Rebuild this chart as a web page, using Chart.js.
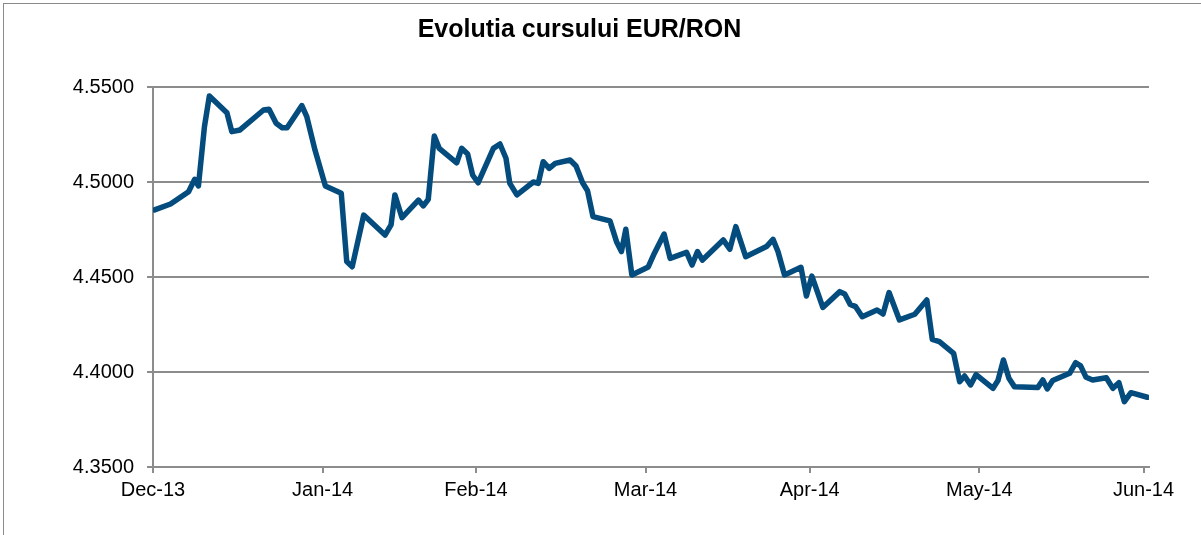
<!DOCTYPE html>
<html>
<head>
<meta charset="utf-8">
<script src="https://cdn.jsdelivr.net/npm/chart.js@4/dist/chart.umd.min.js"></script>
<style>
  html, body { margin: 0; padding: 0; background: #fff; }
  #wrap { position: relative; width: 1201px; height: 535px; overflow: hidden; }
  #frame { position: absolute; left: 3px; top: 3px; right: -2px; bottom: -2px; border-left: 1px solid #8a8a8a; border-top: 1px solid #8a8a8a; }
  canvas { position: absolute; left: 0; top: 0; }
</style>
</head>
<body>
<div id="wrap">
  <div id="frame"></div>
  <canvas id="chart" width="1201" height="535"></canvas>
</div>
<script>
// days counted from the first axis tick (labelled Dec-13)
const days = [0.3, 3.2, 6.5, 7.6, 8.3, 9.4, 10.3, 13.5, 14.4, 15.9, 20.2, 21.2, 22.5, 23.6, 24.5, 27.2, 28.1, 29.6,
  31.5, 34.4, 35.4, 36.4, 38.5, 42.4, 43.5, 44.2, 45.5, 48.5, 49.4, 50.3, 51.4, 52.3, 55.5, 56.4, 57.5, 58.4, 59.4,
  62.2, 63.4, 64.5, 65.2, 66.5, 69.5, 70.4, 71.3, 72.4, 73.5, 76.2, 77.3, 78.5, 79.4, 80.4, 83.5, 84.7, 85.6, 86.4, 87.5,
  90.5, 91.6, 93.4, 94.5, 97.5, 98.5, 99.5, 100.4, 104.2, 105.4, 106.5, 108.3, 112.1, 113.3, 114.2, 115.4, 118.4, 119.4,
  120.4, 122.4, 125.5, 126.4, 127.4, 128.4, 129.6, 132.3, 133.4, 134.5, 136.4, 139.2, 141.4, 142.4, 143.7, 146.3, 147.4,
  148.3, 149.4, 150.4, 153.5, 154.4, 155.4, 156.4, 157.4, 161.7, 162.6, 163.4, 164.4, 167.5, 168.6, 169.5, 170.5, 171.7,
  174.2, 175.4, 176.5, 177.5, 178.7, 181.7];

const eurRon = [4.4853, 4.4884, 4.4949, 4.5014, 4.4979, 4.5291, 4.5453, 4.5365, 4.5265, 4.5274, 4.5379, 4.5383, 4.5309, 4.5286, 4.5286, 4.5402, 4.5344, 4.5168,
  4.4979, 4.4941, 4.4581, 4.4554, 4.4826, 4.4721, 4.4774, 4.4932, 4.4812, 4.4905, 4.4874, 4.4909, 4.5242, 4.5177, 4.5101, 4.5177, 4.5147, 4.5037, 4.4996,
  4.5177, 4.5200, 4.5125, 4.4993, 4.4932, 4.5000, 4.4993, 4.5107, 4.5072, 4.5098, 4.5116, 4.5084, 4.4996, 4.4954, 4.4818, 4.4795, 4.4686, 4.4634, 4.4751, 4.4511,
  4.4553, 4.4624, 4.4726, 4.4598, 4.4630, 4.4563, 4.4634, 4.4589, 4.4695, 4.4646, 4.4765, 4.4607, 4.4660, 4.4698, 4.4634, 4.4511, 4.4551, 4.4400,
  4.4505, 4.4340, 4.4423, 4.4411, 4.4356, 4.4344, 4.4291, 4.4326, 4.4305, 4.4418, 4.4274, 4.4304, 4.4379, 4.4172, 4.4160, 4.4098, 4.3949,
  4.3979, 4.3932, 4.3986, 4.3914, 4.3955, 4.4063, 4.3967, 4.3923, 4.3919, 4.3958, 4.3911, 4.3955, 4.3993, 4.4049, 4.4032, 4.3972, 4.3958,
  4.3970, 4.3914, 4.3944, 4.3844, 4.3891, 4.3867];

const monthTicks = [0, 31, 59, 90, 120, 151, 181];
const monthLabels = ['Dec-13', 'Jan-14', 'Feb-14', 'Mar-14', 'Apr-14', 'May-14', 'Jun-14'];
const yTicks = [4.35, 4.40, 4.45, 4.50, 4.55];

const axisGrey = '#8c8c8c';
const font = { family: "'Liberation Sans', Arial, sans-serif", size: 20 };

const points = days.map((d, i) => ({ x: d, y: eurRon[i] }));

new Chart(document.getElementById('chart').getContext('2d'), {
  type: 'line',
  data: {
    datasets: [{
      data: points,
      borderColor: '#034c7d',
      borderWidth: 5.5,
      borderJoinStyle: 'round',
      borderCapStyle: 'round',
      pointRadius: 0,
      tension: 0,
      fill: false
    }]
  },
  options: {
    responsive: false,
    animation: false,
    layout: { padding: { left: 10, right: 52, top: 5, bottom: 0 } },
    plugins: {
      legend: { display: false },
      tooltip: { enabled: false },
      title: {
        display: true,
        text: 'Evolutia cursului EUR/RON',
        color: '#000',
        font: { family: "'Liberation Sans', Arial, sans-serif", size: 25, weight: 'bold' },
        padding: { top: 10, bottom: 42 }
      }
    },
    scales: {
      x: {
        type: 'linear',
        min: 0,
        max: 182,
        afterBuildTicks: s => { s.ticks = monthTicks.map(v => ({ value: v })); },
        afterFit: s => { s.height = 68; },
        ticks: {
          autoSkip: false,
          maxRotation: 0,
          padding: 5,
          color: '#000',
          font: font,
          callback: (v) => monthLabels[monthTicks.indexOf(v)]
        },
        grid: { drawOnChartArea: false, drawTicks: true, tickLength: 6, color: axisGrey, lineWidth: 2 },
        border: { display: true, color: axisGrey, width: 2 }
      },
      y: {
        min: 4.35,
        max: 4.55,
        afterBuildTicks: s => { s.ticks = yTicks.map(v => ({ value: v })); },
        afterFit: s => { s.width = 143; },
        ticks: {
          padding: 13,
          color: '#000',
          font: font,
          callback: v => v.toFixed(4)
        },
        grid: { color: axisGrey, lineWidth: 2, tickLength: 6 },
        border: { display: true, color: axisGrey, width: 2 }
      }
    }
  }
});
</script>
</body>
</html>
